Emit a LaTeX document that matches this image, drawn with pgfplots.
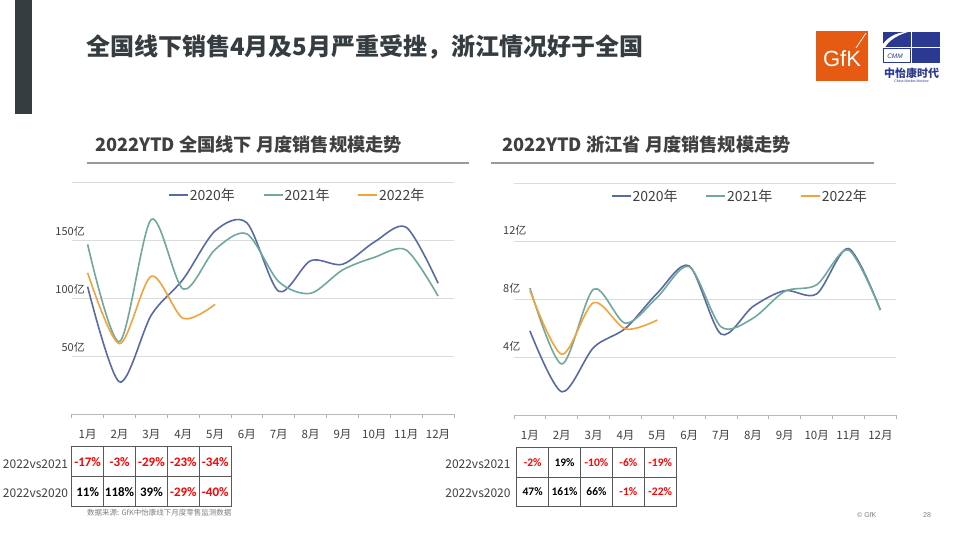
\documentclass[border=0pt]{standalone}
\usepackage{fontspec}
\setmainfont{Noto Sans CJK SC}
\newfontfamily\calfont{Carlito}
\newfontfamily\arialfont{Liberation Sans}
\usepackage{pgfplots}
\pgfplotsset{compat=1.18}
\definecolor{c20}{HTML}{5A6AA2}
\definecolor{c21}{HTML}{6FA89E}
\definecolor{c22}{HTML}{F3A33C}
\definecolor{txt}{HTML}{404040}
\definecolor{neg}{HTML}{FF0000}
\definecolor{barc}{HTML}{363D41}
\definecolor{gfk}{HTML}{E55B13}
\definecolor{cmm}{HTML}{2B3990}
\pgfplotsset{
  myaxis/.style={
    scale only axis, width=382.3pt, height=232pt,
    anchor=south west,
    xmin=0.5, xmax=12.5, ymin=0,
    xtick={1,...,12},
    xticklabels={1月,2月,3月,4月,5月,6月,7月,8月,9月,10月,11月,12月},
    major tick length=0pt,
    minor xtick={0.5,1.5,...,12.5},
    minor tick length=4pt,
    minor x tick style={draw=gray!60, line width=0.8pt},
    tick align=outside,
    axis x line*=bottom,
    axis y line*=left,
    x axis line style={draw=gray!55, line width=0.8pt, -},
    y axis line style={draw=none},
    ytick style={draw=none},
    ymajorgrids, grid style={draw=gray!28, line width=0.7pt},
    xticklabel style={font=\fontsize{11.5}{13}\selectfont, text=txt, anchor=base, yshift=-24pt},
    legend columns=3,
    legend style={draw=none, fill=none, inner sep=0pt, font=\fontsize{14}{16}\selectfont, text=txt,
      /tikz/every even column/.append style={column sep=27pt}, nodes={inner sep=1pt}},
    legend image code/.code={\draw[#1, line width=1.6pt] (0pt,0pt) -- (19pt,0pt);},
    every axis plot/.append style={line width=1.6pt, smooth},
  }
}
\begin{document}
\begin{tikzpicture}
\begin{scope}[x=1pt,y=1pt]
\fill[white] (0,0) rectangle (960,540);
% left dark bar
\fill[barc] (15,426) rectangle (32.3,540);
% title
\node[anchor=west, inner sep=0pt, text=barc, font=\fontsize{24}{28}\selectfont\bfseries] at (86,493) {全国线下销售4月及5月严重受挫，浙江情况好于全国};
% subtitles
\node[anchor=west, inner sep=0pt, text=txt, font=\fontsize{18.2}{20}\selectfont\bfseries] at (95,395) {2022YTD 全国线下 月度销售规模走势};
\draw[gray!80, line width=1.2pt] (87,377) -- (469,377);
\node[anchor=west, inner sep=0pt, text=txt, font=\fontsize{18.2}{20}\selectfont\bfseries] at (502,395) {2022YTD 浙江省 月度销售规模走势};
\draw[gray!80, line width=1.2pt] (491,377) -- (874,377);
% GfK logo
\fill[gfk] (816,459) rectangle (868,509);
\node[text=white, font=\arialfont\fontsize{22}{23}\selectfont] at (842,481) {GfK};
\draw[white, line width=0.8pt] (856,492) -- (866,507);
% CMM logo
\fill[cmm] (911.7,492.5) rectangle (940,508);
\fill[cmm] (911.7,477) rectangle (940,491.5);
\fill[cmm] (883,492.5) rectangle (910.7,508);
\fill[white] (883,492.5) -- (883,496) .. controls (889,504) and (897,507) .. (905,508) -- (908,508) .. controls (898,505) and (889,500) .. (885,492.5) -- cycle;
\draw[cmm, line width=0.8pt] (883.4,477.4) rectangle (910.3,491.5);
\node[text=cmm, font=\arialfont\itshape\fontsize{6.5}{7}\selectfont] at (895,484) {CMM};
\node[text=cmm, font=\fontsize{11}{12}\selectfont\bfseries] at (911.5,467) {中怡康时代};
\node[text=cmm, font=\arialfont\fontsize{3.6}{4}\selectfont] at (911.5,459) {China Market Monitor};
% footer
\node[anchor=west, inner sep=0pt, text=gray, font=\arialfont\fontsize{7}{8}\selectfont] at (857,25) {© GfK};
\node[anchor=west, inner sep=0pt, text=gray, font=\arialfont\fontsize{7}{8}\selectfont] at (923,25) {28};
\node[anchor=west, inner sep=0pt, text=gray, font=\fontsize{7.5}{8}\selectfont] at (87,27) {数据来源: GfK中怡康线下月度零售监测数据};

% ---------- left table ----------
\begin{scope}[draw=gray!70!black, line width=0.9pt]
\foreach \i in {0,...,4} {
  \draw (71.7+\i*31.9,33.3) rectangle ++(31.9,30);
  \draw (71.7+\i*31.9,63.3) rectangle ++(31.9,30);
}
\end{scope}
\begin{scope}[font=\calfont\bfseries\fontsize{13}{14}\selectfont]
\node[text=neg] at (87.65,78) {-17\%};
\node[text=neg] at (119.55,78) {-3\%};
\node[text=neg] at (151.45,78) {-29\%};
\node[text=neg] at (183.35,78) {-23\%};
\node[text=neg] at (215.25,78) {-34\%};
\node[text=black] at (87.65,48) {11\%};
\node[text=black] at (119.55,48) {118\%};
\node[text=black] at (151.45,48) {39\%};
\node[text=neg] at (183.35,48) {-29\%};
\node[text=neg] at (215.25,48) {-40\%};
\end{scope}
\node[anchor=east, inner sep=0pt, text=txt, font=\fontsize{12}{14}\selectfont] at (68.3,76) {2022vs2021};
\node[anchor=east, inner sep=0pt, text=txt, font=\fontsize{12}{14}\selectfont] at (68.3,47) {2022vs2020};

% ---------- right table ----------
\begin{scope}[draw=gray!70!black, line width=0.9pt]
\foreach \i in {0,...,4} {
  \draw (516.7+\i*31.9,33.3) rectangle ++(31.9,29.4);
  \draw (516.7+\i*31.9,62.7) rectangle ++(31.9,30);
}
\end{scope}
\begin{scope}[font=\calfont\bfseries\fontsize{11.5}{13}\selectfont]
\node[text=neg] at (532.65,77.5) {-2\%};
\node[text=black] at (564.55,77.5) {19\%};
\node[text=neg] at (596.45,77.5) {-10\%};
\node[text=neg] at (628.35,77.5) {-6\%};
\node[text=neg] at (660.25,77.5) {-19\%};
\node[text=black] at (532.65,48) {47\%};
\node[text=black] at (564.55,48) {161\%};
\node[text=black] at (596.45,48) {66\%};
\node[text=neg] at (628.35,48) {-1\%};
\node[text=neg] at (660.25,48) {-22\%};
\end{scope}
\node[anchor=east, inner sep=0pt, text=txt, font=\fontsize{12}{14}\selectfont] at (510.7,76) {2022vs2021};
\node[anchor=east, inner sep=0pt, text=txt, font=\fontsize{12}{14}\selectfont] at (510.7,47) {2022vs2020};
\end{scope}

% ---------- left chart ----------
\begin{axis}[myaxis, at={(71.7pt,125.7pt)}, ymax=200,
  ytick={50,100,150,200}, yticklabels={50亿,100亿,150亿,{}},
  yticklabel style={font=\fontsize{11}{12}\selectfont, text=txt, anchor=base east, inner sep=0pt, xshift=13.3pt, yshift=4.5pt},
  legend style={at={(0.252,0.945)}, anchor=west}]
\addplot[c20] coordinates {(1,110) (2,27.9) (3,85.6) (4,116.5) (5,158) (6,165) (7,106) (8,132.4) (9,129.3) (10,148.5) (11,161.2) (12,113)};
\addlegendentry{2020年}
\addplot[c21] coordinates {(1,146.5) (2,62.6) (3,168) (4,108) (5,142) (6,155.5) (7,114.3) (8,104.3) (9,124.4) (10,135.3) (11,141.6) (12,102)};
\addlegendentry{2021年}
\addplot[c22] coordinates {(1,122) (2,60.9) (3,119) (4,82.7) (5,94.8)};
\addlegendentry{2022年}
\end{axis}

% ---------- right chart ----------
\begin{axis}[myaxis, at={(514pt,124.7pt)}, ymax=16,
  ytick={4,8,12,16}, yticklabels={4亿,8亿,12亿,{}},
  yticklabel style={font=\fontsize{11}{12}\selectfont, text=txt, anchor=base west, inner sep=0pt, xshift=-11pt, yshift=6.5pt},
  legend style={at={(0.253,0.945)}, anchor=west}]
\addplot[c20] coordinates {(1,5.82) (2,1.62) (3,4.68) (4,6.0) (5,8.43) (6,10.3) (7,5.6) (8,7.5) (9,8.6) (10,8.37) (11,11.5) (12,7.26)};
\addlegendentry{2020年}
\addplot[c21] coordinates {(1,8.78) (2,3.54) (3,8.7) (4,6.35) (5,8.15) (6,10.25) (7,6.1) (8,6.69) (9,8.55) (10,9.0) (11,11.4) (12,7.26)};
\addlegendentry{2021年}
\addplot[c22] coordinates {(1,8.6) (2,4.21) (3,7.77) (4,5.95) (5,6.57)};
\addlegendentry{2022年}
\end{axis}
\end{tikzpicture}
\end{document}
